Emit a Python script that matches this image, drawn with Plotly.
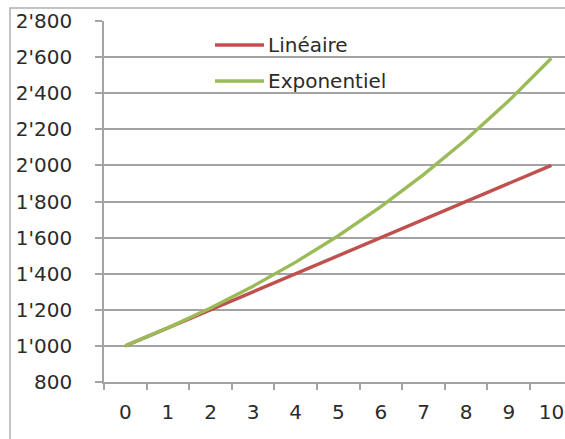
import plotly.graph_objects as go

# Years and the two growth series
years = list(range(11))
lineaire = [1000, 1100, 1200, 1300, 1400, 1500, 1600, 1700, 1800, 1900, 2000]
exponentiel = [1000, 1100, 1210, 1331, 1464.1, 1610.51, 1771.56, 1948.72, 2143.59, 2357.95, 2593.74]
series_names = ["Linéaire", "Exponentiel"]
series_colors = ["#C0504D", "#9BBB59"]

y_tickvals = [800, 1000, 1200, 1400, 1600, 1800, 2000, 2200, 2400, 2600, 2800]
y_ticktext = ["800", "1'000", "1'200", "1'400", "1'600", "1'800", "2'000",
              "2'200", "2'400", "2'600", "2'800"]

W, H = 565, 439
L, R, T, B = 104, 0, 21, 57
pw, ph = W - L - R, H - T - B

def px_x(px):
    return (px - L) / pw

def px_y(py):
    return (H - B - py) / ph

font = dict(family="DejaVu Sans", size=20, color="#2b2b2b")
tick_font = dict(family="DejaVu Sans", size=20, color="#2b2b2b")
grid = "#a3a3a3"

fig = go.Figure()
for vals, name, color in zip([lineaire, exponentiel], series_names, series_colors):
    fig.add_trace(go.Scatter(x=years, y=vals, mode="lines", name=name,
                             line=dict(color=color, width=3.4), showlegend=False))

fig.update_layout(
    template="none",
    width=W, height=H,
    margin=dict(l=L, r=R, t=T, b=B, autoexpand=False),
    paper_bgcolor="white", plot_bgcolor="white",
    font=font,
    xaxis=dict(range=[-0.5, 10.32], tickvals=years, ticktext=[str(y) for y in years],
               ticks="", showgrid=False, zeroline=False, tickfont=tick_font,
               showline=True, linecolor=grid, linewidth=1.5, automargin=False,
               ticklabeloverflow="allow", ticklabelstandoff=11,
               minor=dict(tickvals=[y - 0.5 for y in years], ticks="outside",
                          ticklen=6, tickcolor=grid, tickwidth=1.5, showgrid=False)),
    yaxis=dict(range=[800, 2800], tickvals=y_tickvals, ticktext=y_ticktext,
               ticks="outside", ticklen=7, tickcolor=grid, tickwidth=1.5,
               showgrid=True, gridcolor=grid, gridwidth=1.5, zeroline=False,
               showline=True, linecolor=grid, linewidth=1.5, tickfont=tick_font,
               automargin=False, ticklabelstandoff=19),
)

# Manual legend
legend_rows = [45, 81]
for name, color, yy in zip(series_names, series_colors, legend_rows):
    fig.add_shape(type="line", xref="paper", yref="paper",
                  x0=px_x(215), x1=px_x(264), y0=px_y(yy), y1=px_y(yy),
                  line=dict(color=color, width=3.4))
    fig.add_annotation(xref="paper", yref="paper", x=px_x(266), y=px_y(yy),
                       text=name, showarrow=False, xanchor="left", yanchor="middle",
                       font=font)

# Chart frame
fig.add_shape(type="rect", xref="paper", yref="paper",
              x0=px_x(10), x1=1.3, y0=-0.4, y1=px_y(8),
              line=dict(color="#b0b0b0", width=1.5), layer="below")

fig.write_html("out.html")
